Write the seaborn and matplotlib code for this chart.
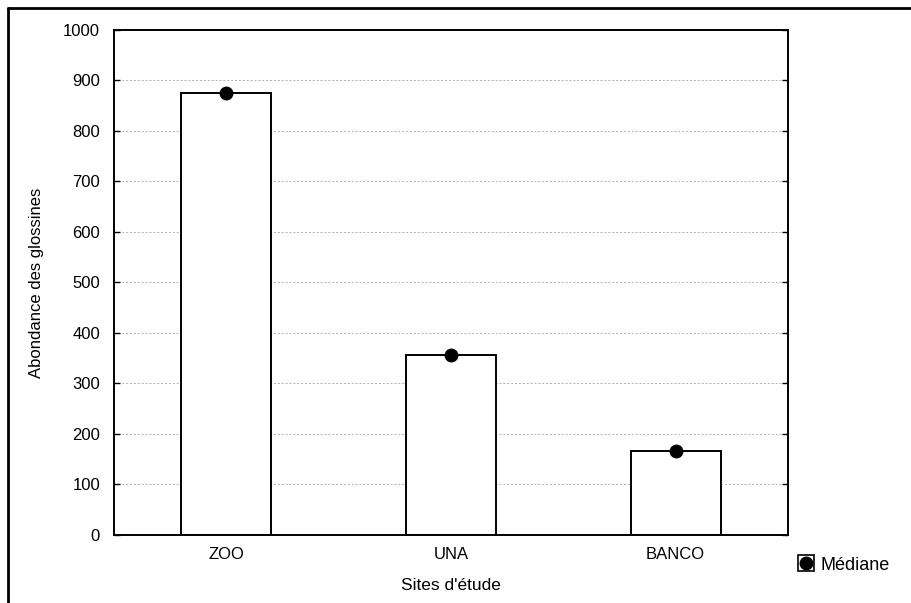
import numpy as np
import pandas as pd
import matplotlib
matplotlib.use('Agg')
import matplotlib.pyplot as plt
import seaborn as sns
from matplotlib.lines import Line2D
from matplotlib.legend_handler import HandlerTuple

# data
sites = ['ZOO', 'UNA', 'BANCO']
abondance = [875, 356, 167]
mediane = [875, 356, 167]

df = pd.DataFrame({'site': sites, 'abondance': abondance, 'mediane': mediane})

sns.set_style('white')
plt.rcParams['font.family'] = ['Liberation Sans', 'DejaVu Sans']
plt.rcParams['text.color'] = 'black'
plt.rcParams['axes.labelcolor'] = 'black'
plt.rcParams['xtick.color'] = 'black'
plt.rcParams['ytick.color'] = 'black'

fig = plt.figure(figsize=(9.12, 6.03), dpi=100)
ax = fig.add_axes([0.125, 0.1128, 0.739, 0.8375])

# bars
sns.barplot(data=df, x='site', y='abondance', order=sites, color='white',
            edgecolor='black', linewidth=1.4, width=0.4, ax=ax)
# median dots
sns.stripplot(data=df, x='site', y='mediane', order=sites, jitter=False,
              color='black', size=10, ax=ax, zorder=5)

ax.set_xlim(-0.5, 2.5)
ax.set_ylim(0, 1000)
ax.set_yticks(np.arange(0, 1001, 100))
ax.yaxis.grid(True, linestyle=(0, (2, 2)), color='#b0b0b0', linewidth=0.7)
ax.set_axisbelow(True)
for s in ax.spines.values():
    s.set_visible(True)
    s.set_color('black')
    s.set_linewidth(1.4)

ax.tick_params(axis='y', direction='in', length=4, width=1, left=True, right=True,
               labelsize=12, pad=10, colors='black')
ax.tick_params(axis='x', direction='in', length=4, width=1, bottom=True,
               labelsize=12, pad=9, colors='black')

ax.set_xlabel("Sites d'étude", fontsize=12.5, labelpad=11, color='black')
ax.set_ylabel('Abondance des glossines', fontsize=12, labelpad=14, color='black')

# legend
h = (Line2D([], [], marker='s', markersize=12, markerfacecolor='white',
            markeredgecolor='black', markeredgewidth=1.2, linestyle='none'),
     Line2D([], [], marker='o', markersize=9, color='black', linestyle='none'))
fig.legend([h], ['Médiane'], handler_map={tuple: HandlerTuple(ndivide=1)},
           loc='center left', bbox_to_anchor=(0.856, 0.063), frameon=False,
           fontsize=13, handlelength=1.0, handletextpad=0.3)

# outer frame (top and left)
fig.add_artist(Line2D([0.009, 1.0], [0.987, 0.987], color='black', linewidth=2,
                      transform=fig.transFigure))
fig.add_artist(Line2D([0.009, 0.009], [0.0, 0.987], color='black', linewidth=2,
                      transform=fig.transFigure))

fig.savefig('out.png', dpi=100)
